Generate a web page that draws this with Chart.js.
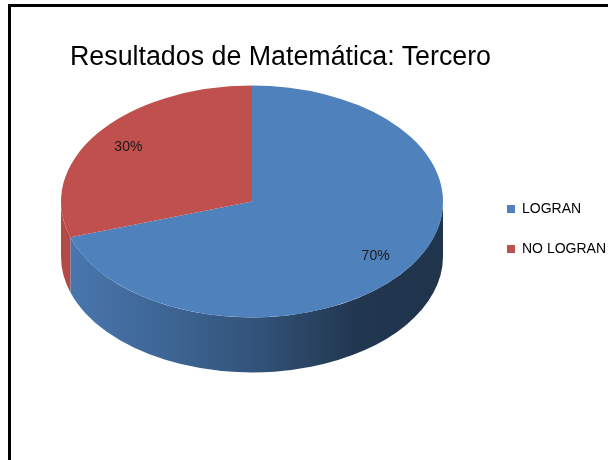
<!DOCTYPE html>
<html>
<head>
<meta charset="utf-8">
<script src="https://cdn.jsdelivr.net/npm/chart.js@4.4.1/dist/chart.umd.min.js"></script>
<style>
  html, body { margin: 0; padding: 0; background: #fff; overflow: hidden; }
  /* marco negro recortado (solo se ven los bordes izquierdo y superior) */
  #marco { position: absolute; left: 8px; top: 4px; width: 700px; height: 600px; border: 3px solid #000; }
  #grafico { position: absolute; left: 0; top: 0; }
  #titulo { position: absolute; left: 70px; top: 41px; margin: 0; white-space: nowrap;
            font: 26.8px/30px "Liberation Sans", Arial, sans-serif; color: #000; }
</style>
</head>
<body>
<div id="marco"></div>
<canvas id="grafico" width="608" height="460"></canvas>
<p id="titulo"></p>
<script>
// ---------- datos ----------
const titulo = 'Resultados de Matemática: Tercero';
const categorias = ['LOGRAN', 'NO LOGRAN'];
const porcentajes = [70, 30];
const colores = ['#4F81BD', '#C0504D'];

document.getElementById('titulo').textContent = titulo;

// oscurece un color hex por un factor
function oscurecer(hex, f) {
    const n = parseInt(hex.slice(1), 16);
    const r = Math.round(((n >> 16) & 255) * f);
    const g = Math.round(((n >> 8) & 255) * f);
    const b = Math.round((n & 255) * f);
    return `rgb(${r},${g},${b})`;
}

/* ---------- plugin: pastel 3D (elipse + pared lateral) ---------- */
const pastel3D = {
    id: 'pastel3D',
    beforeDatasetsDraw(chart, args, opts) {
        const ctx = chart.ctx;
        const meta = chart.getDatasetMeta(0);
        const k = opts.inclinacion, h = opts.profundidad;
        // paredes laterales (solo la mitad frontal)
        meta.data.forEach((arc, i) => {
            const { x, y, startAngle, endAngle, outerRadius: r } = arc;
            const a0 = Math.max(startAngle, 0), a1 = Math.min(endAngle, Math.PI);
            if (a1 <= a0) return;
            const cy = y - h / 2;
            const base = colores[i];
            const grad = ctx.createLinearGradient(x - r, 0, x + r, 0);
            grad.addColorStop(0, oscurecer(base, 0.93));
            grad.addColorStop(0.25, oscurecer(base, 0.8));
            grad.addColorStop(0.5, oscurecer(base, 0.65));
            grad.addColorStop(0.78, oscurecer(base, 0.42));
            grad.addColorStop(1, oscurecer(base, 0.4));
            ctx.save();
            ctx.beginPath();
            ctx.ellipse(x, cy, r, r * k, 0, a0, a1);
            ctx.ellipse(x, cy + h, r, r * k, 0, a1, a0, true);
            ctx.closePath();
            ctx.fillStyle = grad;
            ctx.fill();
            ctx.restore();
        });
        // cara superior: aplastar el círculo a elipse
        const a = meta.data[0];
        ctx.save();
        ctx.translate(0, a.y - h / 2);
        ctx.scale(1, k);
        ctx.translate(0, -a.y);
    },
    afterDatasetsDraw(chart, args, opts) {
        const ctx = chart.ctx;
        ctx.restore();
        const meta = chart.getDatasetMeta(0);
        const k = opts.inclinacion, h = opts.profundidad;
        const total = porcentajes.reduce((s, v) => s + v, 0);
        ctx.save();
        ctx.font = '14px "Liberation Sans", Arial, sans-serif';
        ctx.fillStyle = '#1a1a1a';
        ctx.textAlign = 'center';
        ctx.textBaseline = 'middle';
        meta.data.forEach((arc, i) => {
            const mid = (arc.startAngle + arc.endAngle) / 2;
            const r = arc.outerRadius * opts.posEtiqueta;
            const lx = arc.x + Math.cos(mid) * r;
            const ly = arc.y - h / 2 + Math.sin(mid) * r * k;
            ctx.fillText(Math.round(porcentajes[i] / total * 100) + '%', lx, ly);
        });
        ctx.restore();
    }
};

new Chart(document.getElementById('grafico'), {
    type: 'pie',
    data: {
        labels: categorias,
        datasets: [{ data: porcentajes, backgroundColor: colores, borderWidth: 0, radius: 191 }]
    },
    options: {
        responsive: false,
        animation: false,
        events: [],
        layout: { padding: { left: 23, right: 0, top: 80, bottom: 82 } },
        plugins: {
            title: { display: false },
            legend: {
                position: 'right',
                fullSize: false,
                maxWidth: 127,
                labels: {
                    boxWidth: 8,
                    boxHeight: 8,
                    padding: 26,
                    color: '#000',
                    font: { family: '"Liberation Sans", Arial, sans-serif', size: 14 }
                }
            },
            tooltip: { enabled: false },
            pastel3D: { inclinacion: 0.607, profundidad: 55, posEtiqueta: 0.8 }
        }
    },
    plugins: [pastel3D]
});
</script>
</body>
</html>
